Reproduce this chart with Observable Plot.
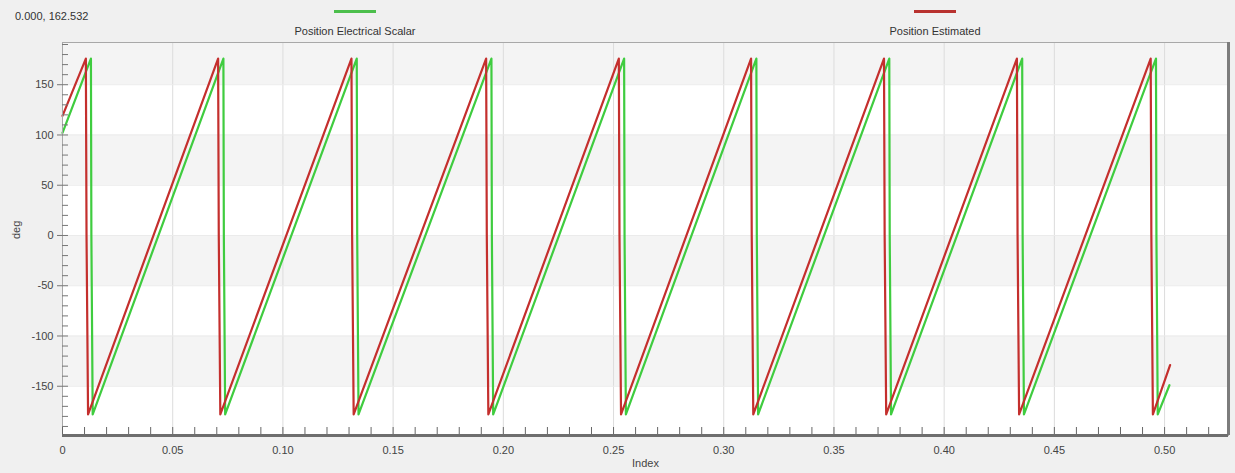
<!DOCTYPE html>
<html><head><meta charset="utf-8">
<script src="https://cdn.jsdelivr.net/npm/d3@7"></script>
<script src="https://cdn.jsdelivr.net/npm/@observablehq/plot@0.6"></script>
<style>
body{margin:0;background:#f0f0f0;width:1235px;height:473px;overflow:hidden;font-family:"Liberation Sans",Arial,sans-serif;}
#header{position:relative;height:40px;}
#header span{position:absolute;font-size:11px;color:#333;white-space:nowrap;}
#header .sw{position:absolute;height:3px;width:42px;}
#chart svg{display:block;}
</style></head><body>
<div id="header"></div>
<div id="chart"></div>
<script>
// ---- data ----
const cursorText = "0.000, 162.532";
const seriesNames = ["Position Electrical Scalar", "Position Estimated"];
const seriesColors = ["#3fcc3f", "#c42f2d"];
const swatchColors = ["#4cbf4c", "#b8322f"];

// Position Estimated (red) vertices
const redX = [0, 0.0106, 0.0109, 0.0116, 0.0706, 0.0709, 0.0716, 0.1311, 0.1314, 0.1321,
  0.1922, 0.1925, 0.1932, 0.2524, 0.2527, 0.2534, 0.3124, 0.3127, 0.3134,
  0.3727, 0.3730, 0.3737, 0.4330, 0.4333, 0.4340, 0.4937, 0.4940, 0.4947, 0.5025];
const redY = [119, 176, 0, -178, 176, 0, -178, 176, 0, -178,
  176, 0, -178, 176, 0, -178, 176, 0, -178,
  176, 0, -178, 176, 0, -178, 176, 0, -178, -129];

// Position Electrical Scalar (green) vertices
const greenX = [0, 0.0129, 0.0131, 0.0137, 0.0730, 0.0732, 0.0738, 0.1335, 0.1337, 0.1343,
  0.1946, 0.1948, 0.1954, 0.2548, 0.2550, 0.2556, 0.3148, 0.3150, 0.3156,
  0.3751, 0.3753, 0.3759, 0.4354, 0.4356, 0.4362, 0.4961, 0.4963, 0.4969, 0.5022];
const greenY = [102, 176, 0, -178, 176, 0, -178, 176, 0, -178,
  176, 0, -178, 176, 0, -178, 176, 0, -178,
  176, 0, -178, 176, 0, -178, 176, 0, -178, -149];

const xTicks = [0, 0.05, 0.10, 0.15, 0.20, 0.25, 0.30, 0.35, 0.40, 0.45, 0.50];
const xTickLabels = ["0", "0.05", "0.10", "0.15", "0.20", "0.25", "0.30", "0.35", "0.40", "0.45", "0.50"];
const yTicks = [150, 100, 50, 0, -50, -100, -150];
const yTickLabels = ["150", "100", "50", "0", "-50", "-100", "-150"];
const xDomain = [0, 0.529];
const yDomain = [-199, 192];
const bandLow = [150, 50, -50, -150];
const bandHigh = [192, 100, 0, -100];
const xLabel = "Index";
const yLabel = "deg";

// ---- header ----
const header = document.getElementById("header");
const coord = document.createElement("span");
coord.textContent = cursorText; coord.style.left = "15px"; coord.style.top = "10px";
header.appendChild(coord);
const legendCenters = [355, 935];
seriesNames.forEach((name, i) => {
  const sw = document.createElement("div");
  sw.className = "sw"; sw.style.background = swatchColors[i];
  sw.style.left = (legendCenters[i] - 21) + "px"; sw.style.top = "10px";
  header.appendChild(sw);
  const lab = document.createElement("span");
  lab.textContent = name; lab.style.left = legendCenters[i] + "px"; lab.style.top = "25px";
  lab.style.transform = "translateX(-50%)";
  header.appendChild(lab);
});

// ---- chart ----
const green = greenX.map((x, i) => ({x, y: greenY[i]}));
const red = redX.map((x, i) => ({x, y: redY[i]}));
const bands = bandLow.map((lo, i) => ({lo, hi: bandHigh[i]}));
const xLab = new Map(xTicks.map((t, i) => [t, xTickLabels[i]]));
const yLab = new Map(yTicks.map((t, i) => [t, yTickLabels[i]]));

const chart = Plot.plot({
  width: 1235, height: 433,
  marginLeft: 62, marginRight: 7, marginTop: 2, marginBottom: 38,
  style: {background: "transparent", fontFamily: "'Liberation Sans', Arial, sans-serif", fontSize: "11px", color: "#444"},
  x: {domain: xDomain},
  y: {domain: yDomain},
  marks: [
    Plot.frame({fill: "white", stroke: "none"}),
    Plot.rect(bands, {y1: "lo", y2: "hi", fill: "#f4f4f4"}),
    Plot.gridX(xTicks, {stroke: "#dcdcdc", strokeOpacity: 1}),
    Plot.gridY(yTicks, {stroke: "#ebebeb", strokeOpacity: 1}),
    Plot.line(green, {x: "x", y: "y", stroke: seriesColors[0], strokeWidth: 2.2}),
    Plot.line(red, {x: "x", y: "y", stroke: seriesColors[1], strokeWidth: 2.2}),
    Plot.frame({stroke: "#a8a8a8"}),
    Plot.ruleX([xDomain[1]], {stroke: "#7c7c7c", strokeWidth: 3}),
    Plot.ruleY([yDomain[0]], {stroke: "#6e6e6e", strokeWidth: 3}),
    Plot.axisX(d3.range(0, 0.5251, 0.01), {anchor: "bottom", tickSize: 7, dy: -8, text: null, label: null, stroke: "#666"}),
    Plot.axisX(xTicks, {anchor: "bottom", tickSize: 0, tickPadding: 11, tickFormat: d => xLab.get(d), label: null, fill: "#444"}),
    Plot.axisY(d3.range(-190, 191, 10), {anchor: "left", tickSize: 6, dx: 6, text: null, label: null, stroke: "#777"}),
    Plot.axisY(yTicks, {anchor: "left", tickSize: 5, tickPadding: 4, tickFormat: d => yLab.get(d), label: null, fill: "#444", stroke: "#777"}),
    Plot.text([xLabel], {frameAnchor: "bottom", dy: 31, fill: "#444", fontSize: 11}),
    Plot.text([yLabel], {frameAnchor: "left", dx: -46, rotate: -90, fill: "#444", fontSize: 11})
  ]
});
document.getElementById("chart").appendChild(chart);
</script>
</body></html>
